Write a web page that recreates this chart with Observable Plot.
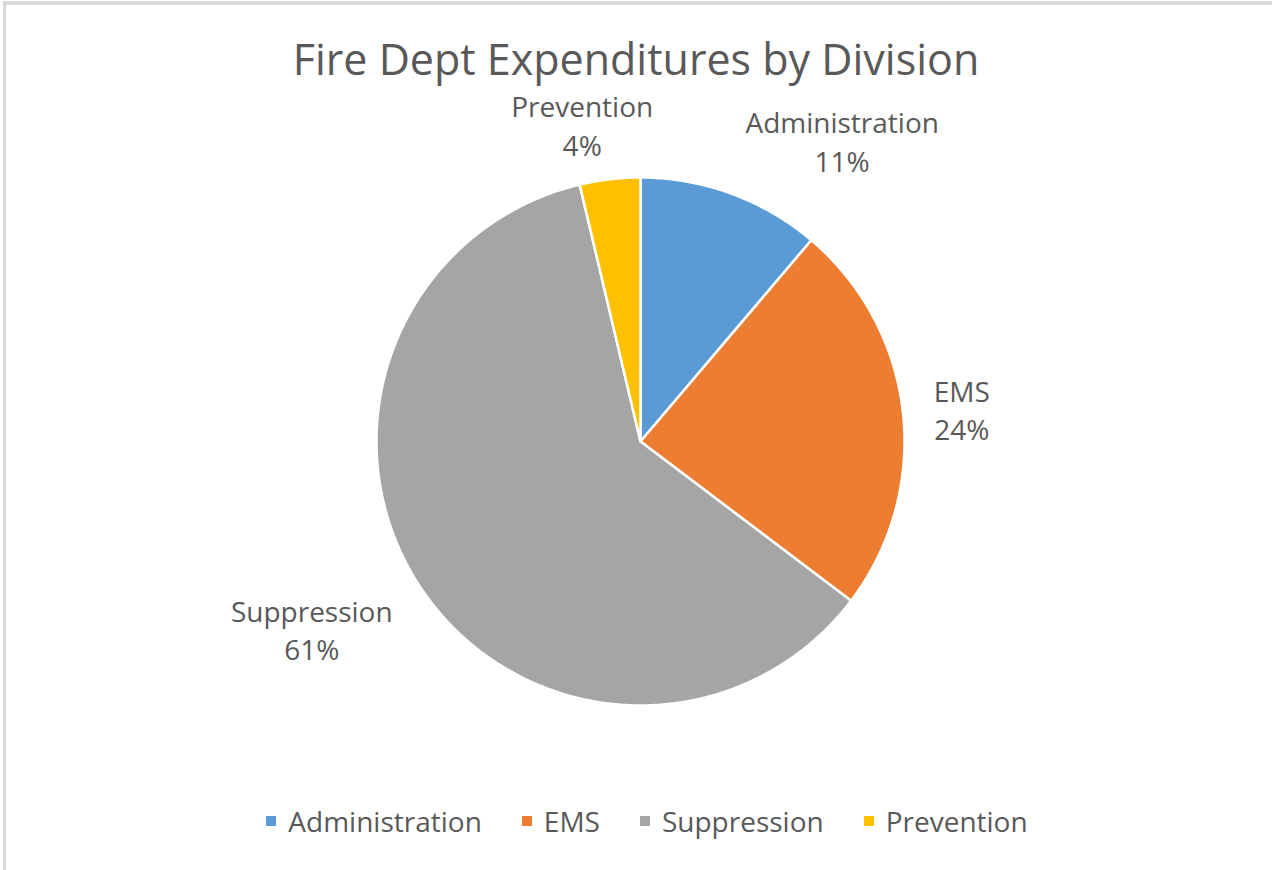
<!DOCTYPE html>
<html>
<head>
<meta charset="utf-8">
<script src="https://cdn.jsdelivr.net/npm/d3@7"></script>
<script src="https://cdn.jsdelivr.net/npm/@observablehq/plot@0.6"></script>
<style>
  html, body { margin: 0; padding: 0; background: #fff; }
  body { width: 1272px; height: 870px; position: relative; overflow: hidden; font-family: "Open Sans", sans-serif; color: #595959; }
  #frame { position: absolute; left: 3px; top: 1px; width: 1266px; height: 865px; border-top: 4px solid #d9d9d9; border-left: 3px solid #d9d9d9; border-right: 1px solid #e3e3e3; border-bottom: 1px solid #e3e3e3; }
  #title { position: absolute; left: 0; top: 37px; width: 1272px; text-align: center; font-size: 43px; line-height: 43px; white-space: nowrap; }
  #chart { position: absolute; left: 0; top: 84px; }
  #legend { position: absolute; left: 22px; top: 802px; width: 1250px; display: flex; justify-content: center; font-size: 28px; line-height: 38px; }
  .item { display: flex; align-items: center; margin: 0 20px; }
  .sw { width: 10px; height: 10px; margin-right: 12px; }
</style>
</head>
<body>
<div id="frame"></div>
<div id="title">Fire Dept Expenditures by Division</div>
<div id="chart"></div>
<div id="legend"></div>
<script>
const categories = ["Administration", "EMS", "Suppression", "Prevention"];
const shares = [11.2, 24.1, 61.0, 3.7];
const colors = ["#5B9BD5", "#ED7D31", "#A5A5A5", "#FFC000"];

const data = categories.map((c, i) => ({cat: c, value: shares[i]}));
const R = 264;
const W = 1272, H = 706;
const cx = 640, cy = 441, top0 = 84;

const arcs = d3.pie().sort(null).value(d => d.value)(data);

// slice polygons in pixel-like data units (y up)
const pts = [];
for (const a of arcs) {
  const n = Math.max(4, Math.ceil((a.endAngle - a.startAngle) / 0.01));
  pts.push({cat: a.data.cat, x: 0, y: 0});
  for (let k = 0; k <= n; k++) {
    const t = a.startAngle + (a.endAngle - a.startAngle) * k / n;
    pts.push({cat: a.data.cat, x: R * Math.sin(t), y: R * Math.cos(t)});
  }
  pts.push({cat: a.data.cat, x: 0, y: 0});
}

// label placement (outside end)
const ctx = document.createElement("canvas").getContext("2d");
ctx.font = "28px 'Open Sans'";
const labels = arcs.map(a => {
  const m = (a.startAngle + a.endAngle) / 2;
  const s = Math.sin(m), c = Math.cos(m);
  const pct = Math.round(a.data.value) + "%";
  const w = Math.max(ctx.measureText(a.data.cat).width, ctx.measureText(pct).width) + 10;
  const h = 70;
  let x = (R + 26) * s, y = (R + 18) * c + 2;
  if (s > 0.3) x += w / 2; else if (s < -0.3) x -= w / 2; else x += s * w * 1.4;
  if (c > 0.3) y += h / 2; else if (c < -0.3) y -= h / 2;
  return {x, y, text: a.data.cat + "\n" + pct};
});

const plot = Plot.plot({
  width: W, height: H, margin: 0,
  style: {fontFamily: "Open Sans", background: "transparent", overflow: "visible"},
  x: {domain: [-cx, W - cx], axis: null},
  y: {domain: [-(top0 + H - cy), cy - top0], axis: null},
  color: {domain: categories, range: colors},
  marks: [
    Plot.line(pts, {x: "x", y: "y", z: "cat", fill: "cat", stroke: "white", strokeWidth: 2.5, strokeLinejoin: "round", curve: "linear"}),
    Plot.text(labels, {x: "x", y: "y", text: "text", fontSize: 28, lineHeight: 1.39, fill: "#595959", textAnchor: "middle", lineAnchor: "middle"})
  ]
});
document.getElementById("chart").appendChild(plot);

const legend = document.getElementById("legend");
categories.forEach((c, i) => {
  const it = document.createElement("div");
  it.className = "item";
  const sw = document.createElement("div");
  sw.className = "sw";
  sw.style.background = colors[i];
  const tx = document.createElement("span");
  tx.textContent = c;
  it.appendChild(sw); it.appendChild(tx);
  legend.appendChild(it);
});
</script>
</body>
</html>
